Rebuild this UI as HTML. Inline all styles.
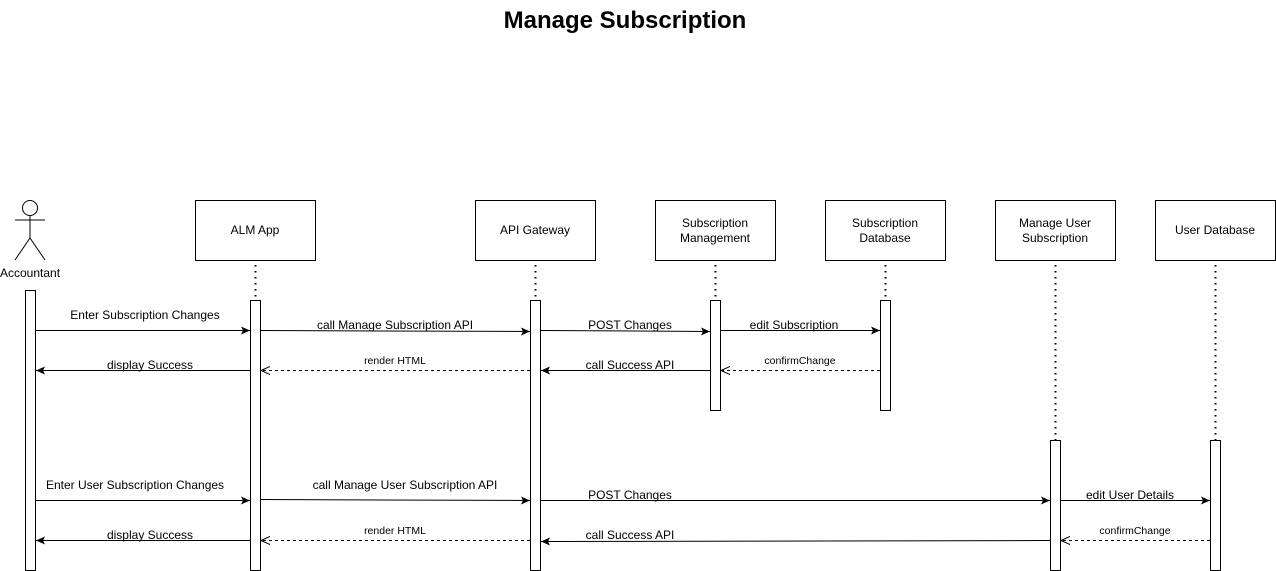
<!DOCTYPE html>
<html><head><style>body{margin:0;background:#fff}svg{display:block}</style></head><body>
<svg width="1276" height="571" xmlns="http://www.w3.org/2000/svg" font-family="Liberation Sans, Arial, sans-serif">
<defs>
<marker id="f" markerWidth="10" markerHeight="8" refX="9" refY="4" orient="auto" markerUnits="userSpaceOnUse"><path d="M0,0 L9,4 L0,8 L2,4 z" fill="#000"/></marker>
<marker id="o" markerWidth="10" markerHeight="10" refX="9" refY="5" orient="auto" markerUnits="userSpaceOnUse"><path d="M0,1 L9,5 L0,9" fill="none" stroke="#000"/></marker>
</defs>
<text x="625" y="28" font-size="24" font-weight="bold" text-anchor="middle">Manage Subscription</text>
<g stroke="#000" fill="none" stroke-width="1">
<circle cx="30" cy="208" r="7.5"/>
<line x1="30" y1="216" x2="30" y2="238"/><line x1="15" y1="220" x2="45" y2="220"/>
<line x1="30" y1="238" x2="15" y2="260"/><line x1="30" y1="238" x2="45" y2="260"/>
</g>
<text x="30" y="277" font-size="12" text-anchor="middle">Accountant</text>
<g fill="#fff" stroke="#000">
<rect x="195.5" y="200.5" width="120" height="60"/>
<rect x="475.5" y="200.5" width="120" height="60"/>
<rect x="655.5" y="200.5" width="120" height="60"/>
<rect x="825.5" y="200.5" width="120" height="60"/>
<rect x="995.5" y="200.5" width="120" height="60"/>
<rect x="1155.5" y="200.5" width="120" height="60"/>
</g>
<g font-size="12" text-anchor="middle">
<text x="255" y="234">ALM App</text>
<text x="535" y="234">API Gateway</text>
<text x="715" y="227">Subscription</text><text x="715" y="242">Management</text>
<text x="885" y="227">Subscription</text><text x="885" y="242">Database</text>
<text x="1055" y="227">Manage User</text><text x="1055" y="242">Subscription</text>
<text x="1215" y="234">User Database</text>
</g>
<g stroke="#000" stroke-width="2" stroke-dasharray="1.5,4.5">
<line x1="255.5" y1="265" x2="255.5" y2="300"/>
<line x1="535.5" y1="265" x2="535.5" y2="300"/>
<line x1="715.5" y1="265" x2="715.5" y2="300"/>
<line x1="885.5" y1="265" x2="885.5" y2="300"/>
<line x1="1055.5" y1="265" x2="1055.5" y2="440"/>
<line x1="1215.5" y1="265" x2="1215.5" y2="440"/>
</g>
<g fill="#fff" stroke="#000">
<rect x="25.5" y="290.5" width="10" height="280"/>
<rect x="250.5" y="300.5" width="10" height="270"/>
<rect x="530.5" y="300.5" width="10" height="270"/>
<rect x="710.5" y="300.5" width="10" height="110"/>
<rect x="880.5" y="300.5" width="10" height="110"/>
<rect x="1050.5" y="440.5" width="10" height="130"/>
<rect x="1210.5" y="440.5" width="10" height="130"/>
</g>
<g stroke="#000" fill="none">
<line x1="36" y1="330.5" x2="250" y2="330.5" marker-end="url(#f)"/>
<line x1="261" y1="330.5" x2="530" y2="331.5" marker-end="url(#f)"/>
<line x1="541" y1="330.5" x2="710" y2="331.5" marker-end="url(#f)"/>
<line x1="721" y1="330.5" x2="880" y2="330.5" marker-end="url(#f)"/>
<line x1="250" y1="370.5" x2="36" y2="370.5" marker-end="url(#f)"/>
<line x1="530" y1="370.5" x2="261" y2="370.5" stroke-dasharray="3,3" marker-end="url(#o)"/>
<line x1="710" y1="370.5" x2="541" y2="370.5" marker-end="url(#f)"/>
<line x1="880" y1="370.5" x2="721" y2="370.5" stroke-dasharray="3,3" marker-end="url(#o)"/>
<line x1="36" y1="500.5" x2="250" y2="500.5" marker-end="url(#f)"/>
<line x1="261" y1="499.5" x2="530" y2="500.5" marker-end="url(#f)"/>
<line x1="541" y1="500.5" x2="1050" y2="500.5" marker-end="url(#f)"/>
<line x1="1061" y1="500.5" x2="1210" y2="500.5" marker-end="url(#f)"/>
<line x1="250" y1="540.5" x2="36" y2="540.5" marker-end="url(#f)"/>
<line x1="530" y1="540.5" x2="261" y2="540.5" stroke-dasharray="3,3" marker-end="url(#o)"/>
<line x1="1050" y1="540.5" x2="541" y2="541.5" marker-end="url(#f)"/>
<line x1="1210" y1="540.5" x2="1061" y2="540.5" stroke-dasharray="3,3" marker-end="url(#o)"/>
</g>
<g font-size="12" text-anchor="middle">
<text x="145" y="319">Enter Subscription Changes</text>
<text x="395" y="329">call Manage Subscription API</text>
<text x="630" y="329">POST Changes</text>
<text x="794" y="329">edit Subscription</text>
<text x="150" y="369">display Success</text>
<text x="395" y="364" font-size="10.5">render HTML</text>
<text x="630" y="369">call Success API</text>
<text x="800" y="364" font-size="10.5">confirmChange</text>
<text x="135" y="489">Enter User Subscription Changes</text>
<text x="405" y="489">call Manage User Subscription API</text>
<text x="630" y="499">POST Changes</text>
<text x="1130" y="499">edit User Details</text>
<text x="150" y="539">display Success</text>
<text x="395" y="534" font-size="10.5">render HTML</text>
<text x="630" y="539">call Success API</text>
<text x="1135" y="534" font-size="10.5">confirmChange</text>
</g>
</svg>
</body></html>
